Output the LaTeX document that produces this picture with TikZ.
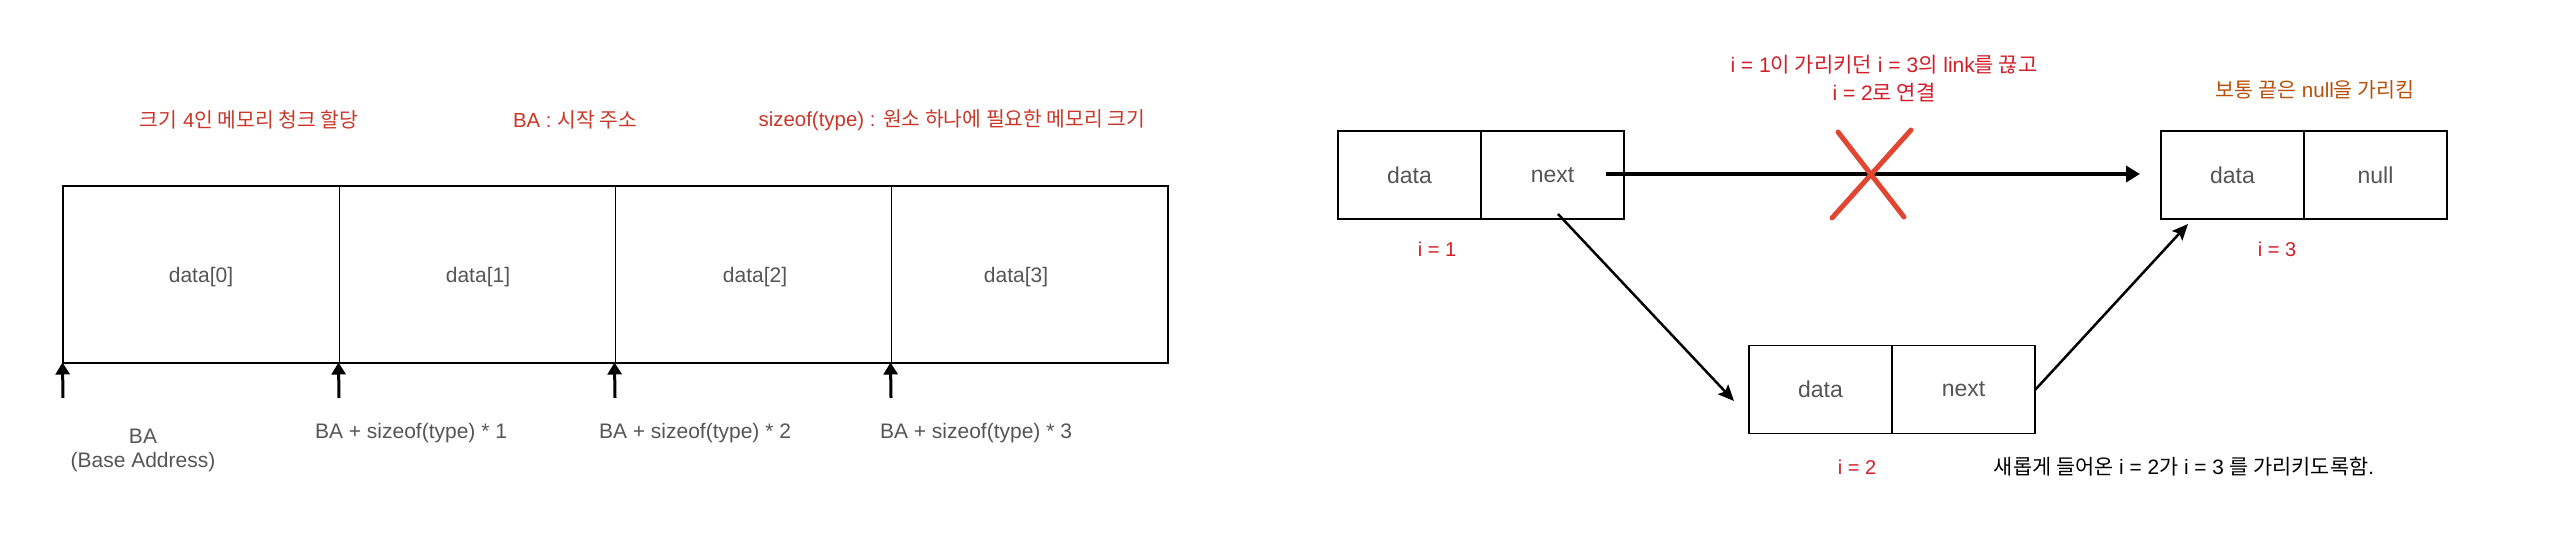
\documentclass[tikz,border=0pt]{standalone}
\usepackage{fontspec}
\setmainfont{Liberation Sans}
\newfontfamily\kr{Noto Sans CJK KR}
\usetikzlibrary{arrows.meta}
\definecolor{txtgray}{RGB}{85,85,85}
\definecolor{lred}{RGB}{200,55,40}
\definecolor{rred}{RGB}{210,30,40}
\definecolor{orng}{RGB}{185,80,10}
\definecolor{xred}{RGB}{225,70,50}
\begin{document}
\begin{tikzpicture}[x=0.5pt,y=-0.5pt,
  lcell/.style={draw=black, line width=0.5pt, minimum width=138pt, minimum height=88pt, inner sep=0pt},
  ctext/.style={inner sep=0pt, text=txtgray, font=\fontsize{10.5}{12}\selectfont},
  rcell/.style={draw=black, line width=0.9pt, minimum width=71.5pt, minimum height=44pt, inner sep=0pt, text=txtgray, font=\fontsize{11.5}{12}\selectfont},
  lbl/.style={inner sep=0pt, text=txtgray, font=\fontsize{10.5}{12}\selectfont},
  redlbl/.style={inner sep=0pt, text=lred, font=\fontsize{10.2}{12}\selectfont},
  idx/.style={inner sep=0pt, text=rred, font=\fontsize{10}{12}\selectfont},
  uparrow/.style={line width=1.5pt, -{Triangle[length=6pt,width=7pt]}},
  linkarrow/.style={line width=1.25pt, -{Stealth[length=8pt,width=7pt,inset=1.5pt]}},
  oldarrow/.style={line width=2pt, -{Triangle[length=7pt,width=8pt]}},
  cross/.style={line width=2.5pt, draw=xred, line cap=round}
]
\useasboundingbox (0,0) rectangle (2570,540);
% ---------- left: array ----------
\node[redlbl] (t1) at (249,120) {{\kr 크기} 4{\kr 인 메모리 청크 할당}};
\node[redlbl] (t2) at (575,120) {BA : {\kr 시작 주소}};
\node[redlbl] (t3) at (952,120) {sizeof(type) : {\kr 원소 하나에 필요한 메모리 크기}};

\node[lcell] (c0) at (201,274) {};
\node[lcell] (c1) at (477,274) {};
\node[lcell] (c2) at (753,274) {};
\node[lcell] (c3) at (1029,274) {};
\draw[line width=1pt] (c0.north west) rectangle (c3.south east);
\node[ctext] (d0) at (201,277) {data[0]};
\node[ctext] (d1) at (478,277) {data[1]};
\node[ctext] (d2) at (755,277) {data[2]};
\node[ctext] (d3) at (1016,277) {data[3]};

\coordinate (a0) at (63,398);
\coordinate (a1) at (339,398);
\coordinate (a2) at (615,398);
\coordinate (a3) at (891,398);
\draw[uparrow] (a0) -- (c0.south west);
\draw[uparrow] (a1) -- (c1.south west);
\draw[uparrow] (a2) -- (c2.south west);
\draw[uparrow] (a3) -- (c3.south west);

\node[lbl, align=center] (b0) at (143,450) {BA\\(Base Address)};
\node[lbl] (b1) at (411,433) {BA + sizeof(type) * 1};
\node[lbl] (b2) at (695,433) {BA + sizeof(type) * 2};
\node[lbl] (b3) at (976,433) {BA + sizeof(type) * 3};

% ---------- right: linked list ----------
\node[inner sep=0pt, text=rred, font=\fontsize{10.5}{12}\selectfont] (r1) at (1884,65) {i = 1{\kr 이 가리키던} i = 3{\kr 의} link{\kr 를 끊고}};
\node[inner sep=0pt, text=rred, font=\fontsize{10.5}{12}\selectfont] (r2) at (1884,93) {i = 2{\kr 로 연결}};
\node[inner sep=0pt, text=orng, font=\fontsize{10.3}{12}\selectfont] (o1) at (2315,90) {{\kr 보통 끝은} null{\kr 을 가리킴}};

\node[rcell] (n1d) at (1409.5,175) {data};
\node[rcell] (n1n) at (1552.5,175) {next};
\node[rcell] (n2d) at (1820.5,389.5) {data};
\node[rcell] (n2n) at (1963.5,389.5) {next};
\node[rcell] (n3d) at (2232.5,175) {data};
\node[rcell] (n3n) at (2375.5,175) {null};

\node[idx] (i1) at (1437,249) {i = 1};
\node[idx] (i2) at (1857,467) {i = 2};
\node[idx] (i3) at (2277,249) {i = 3};
\node[inner sep=0pt, text=black, font=\fontsize{10.4}{12}\selectfont] (m1) at (2184,467) {{\kr 새롭게 들어온} i = 2{\kr 가} i = 3 {\kr 를 가리키도록함}.};

\coordinate (h0) at (1606,174);
\coordinate (h1) at (2140,174);
\draw[oldarrow] (h0) -- (h1);

\coordinate (d1s) at (1558,214);
\coordinate (d1e) at (1734,401);
\draw[linkarrow] (d1s) -- (d1e);
\coordinate (d2s) at (2035,390);
\coordinate (d2e) at (2188,224);
\draw[linkarrow] (d2s) -- (d2e);

\coordinate (x1a) at (1838,132);
\coordinate (x1b) at (1904,217);
\coordinate (x2a) at (1911,130);
\coordinate (x2b) at (1832,218);
\draw[cross] (x1a) -- (x1b);
\draw[cross] (x2a) -- (x2b);
\end{tikzpicture}
\end{document}
